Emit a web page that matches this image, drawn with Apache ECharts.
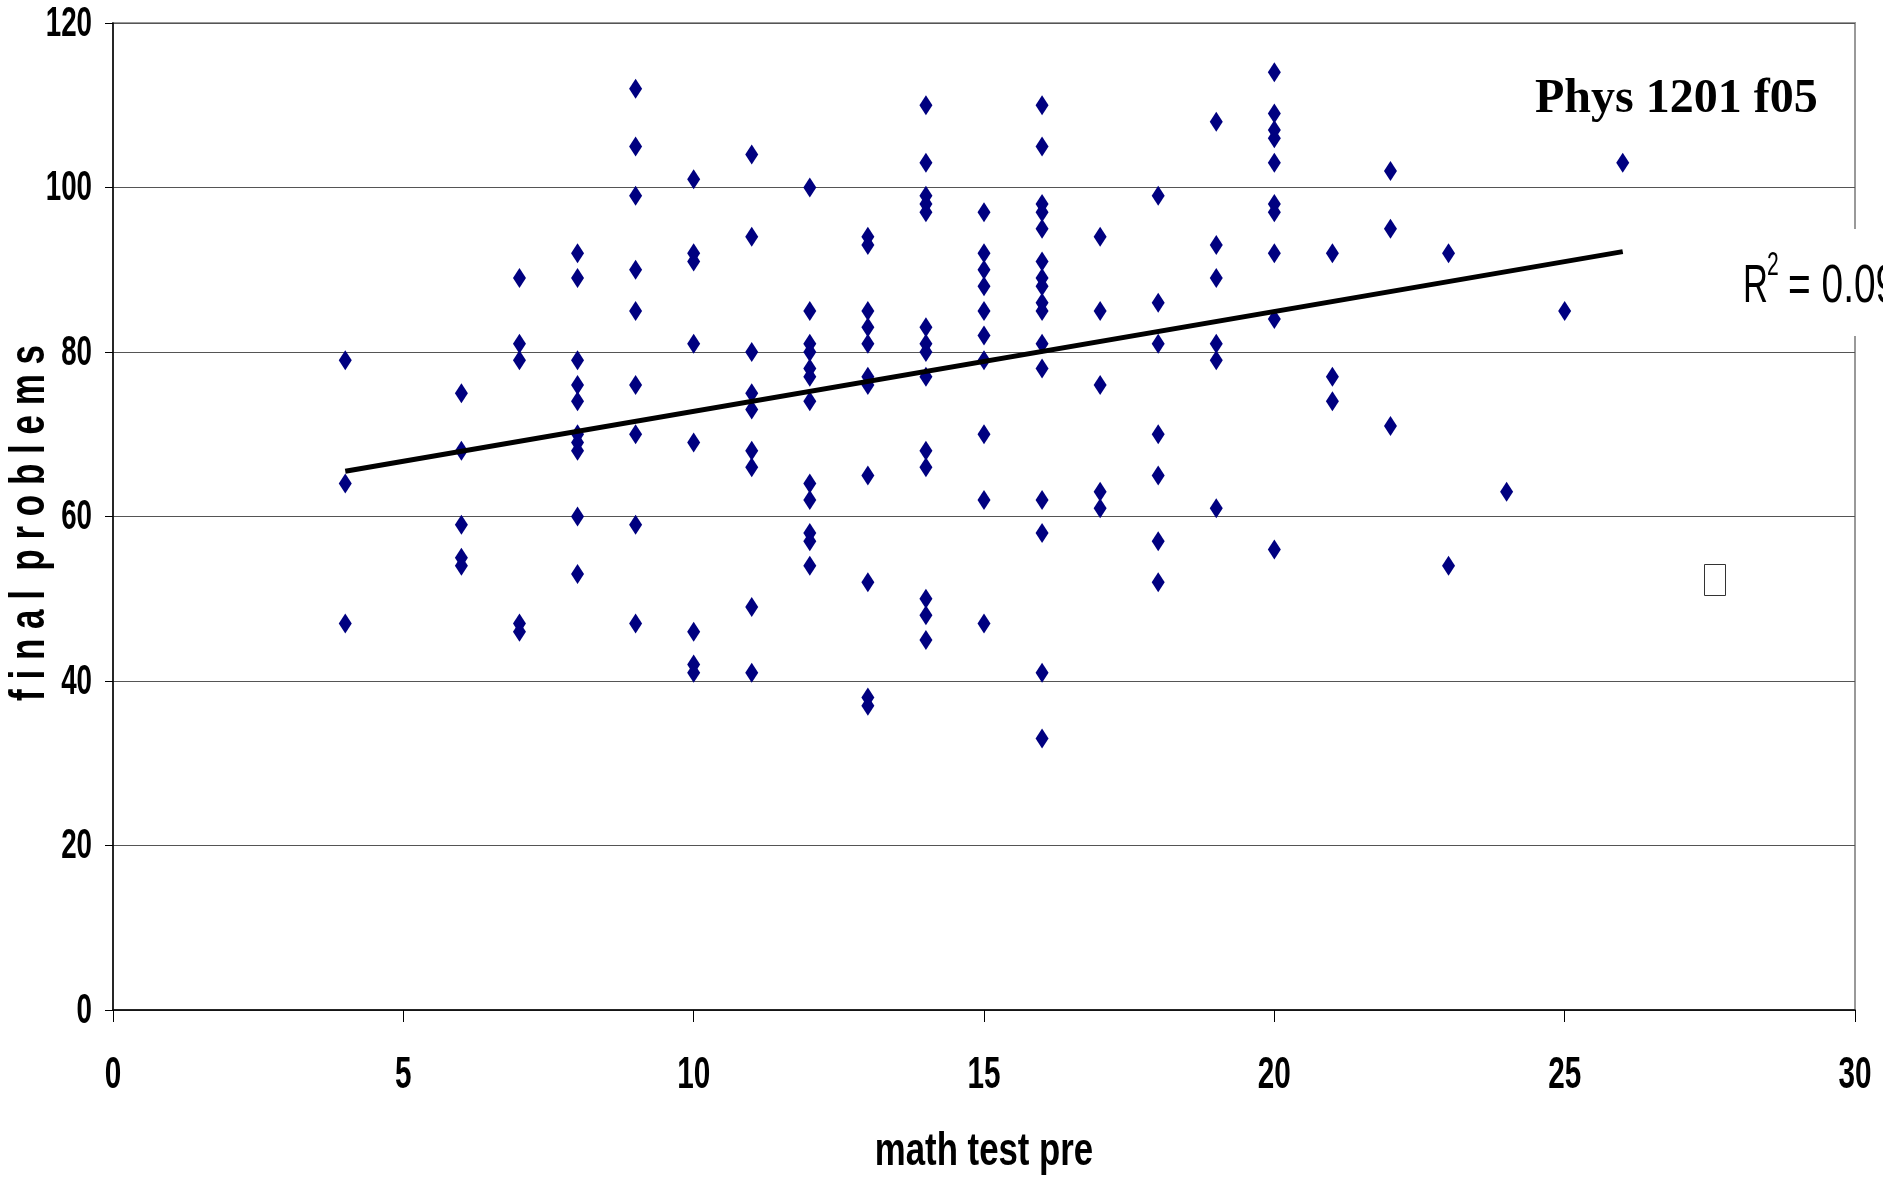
<!DOCTYPE html>
<html>
<head>
<meta charset="utf-8">
<title>Phys 1201 f05</title>
<script src="https://cdn.jsdelivr.net/npm/echarts@6/dist/echarts.min.js"></script>
<style>
  html, body { margin: 0; padding: 0; background: #ffffff; }
  #chart { width: 1883px; height: 1182px; }
</style>
</head>
<body>
<div id="chart"></div>
<script>
// Pre-course math test score (x) and the final-exam problem scores of the
// students who got that math score (y).
const preScores = [4, 6, 7, 8, 9, 10, 11, 12, 13, 14, 15, 16, 17, 18, 19, 20, 21, 22, 23, 24, 25, 26];
const finalByPre = [
  [79, 64, 47],
  [75, 68, 59, 55, 54],
  [89, 81, 79, 47, 46],
  [92, 89, 79, 76, 74, 70, 69, 68, 60, 53],
  [112, 105, 99, 90, 85, 76, 70, 59, 47],
  [101, 92, 91, 81, 69, 46, 42, 41],
  [104, 94, 80, 75, 73, 68, 66, 49, 41],
  [100, 85, 81, 80, 78, 77, 74, 64, 62, 58, 57, 54],
  [94, 93, 85, 83, 81, 77, 76, 65, 52, 38, 37],
  [110, 103, 99, 98, 97, 83, 81, 80, 77, 68, 66, 50, 48, 45],
  [97, 92, 90, 88, 85, 82, 79, 70, 62, 47],
  [110, 105, 98, 97, 95, 91, 89, 88, 86, 85, 81, 78, 62, 58, 41, 33],
  [94, 85, 76, 63, 61],
  [99, 86, 81, 70, 65, 57, 52],
  [108, 93, 89, 81, 79, 61],
  [114, 109, 107, 106, 103, 98, 97, 92, 84, 56],
  [92, 77, 74],
  [102, 95, 71],
  [92, 54],
  [63],
  [85],
  [103]
];

// Linear trend line end points
const trendX = [4, 26];
const trendY = [65.5, 92.2];
const rSquaredText = '0.09';

// Axis ticks and their labels
const xTickValues = [0, 5, 10, 15, 20, 25, 30];
const xTickLabels = ['0', '5', '10', '15', '20', '25', '30'];
const yTickValues = [0, 20, 40, 60, 80, 100, 120];
const yTickLabels = ['0', '20', '40', '60', '80', '100', '120'];

const chartTitle = 'Phys 1201 f05';
const xAxisTitle = 'math test pre';
const yAxisTitle = 'f i n a l  p r o b l e m s';

const points = [];
preScores.forEach(function (x, i) {
  finalByPre[i].forEach(function (y) { points.push([x, y]); });
});
const trendPoints = trendX.map(function (x, i) { return [x, trendY[i]]; });

const sans = "'Liberation Sans', Arial, sans-serif";
const narrowScale = 0.66;

const chart = echarts.init(document.getElementById('chart'), null, { renderer: 'canvas' });

chart.setOption({
  backgroundColor: '#ffffff',
  animation: false,
  grid: {
    left: 113, right: 28, top: 23, bottom: 172,
    containLabel: false,
    outerBoundsMode: 'none',
    show: true, borderColor: '#999999', borderWidth: 2, backgroundColor: 'transparent'
  },
  xAxis: {
    type: 'value',
    min: xTickValues[0], max: xTickValues[xTickValues.length - 1], interval: 5,
    axisLine: { show: true, onZero: false, lineStyle: { color: '#000', width: 1.5 } },
    axisTick: { show: true, length: 12, lineStyle: { color: '#000', width: 1 } },
    axisLabel: { show: false },
    splitLine: { show: false }
  },
  yAxis: {
    type: 'value',
    min: yTickValues[0], max: yTickValues[yTickValues.length - 1], interval: 20,
    axisLine: { show: true, onZero: false, lineStyle: { color: '#000', width: 1.5 } },
    axisTick: { show: true, length: 8, lineStyle: { color: '#000', width: 1 } },
    axisLabel: { show: false },
    splitLine: { show: true, lineStyle: { color: '#555555', width: 1.2 } }
  },
  series: [
    {
      type: 'scatter',
      data: points,
      symbol: 'diamond',
      symbolSize: [13, 20],
      itemStyle: { color: '#000080', opacity: 1 },
      z: 3
    },
    {
      type: 'line',
      data: trendPoints,
      showSymbol: false,
      symbol: 'none',
      lineStyle: { color: '#000', width: 5 },
      z: 4
    }
  ]
});

// Tick labels and titles in a condensed bold face, placed through the axes.
const graphics = [];
const xLabelY = 1076;
xTickValues.forEach(function (v, i) {
  const p = chart.convertToPixel({ gridIndex: 0 }, [v, 0]);
  graphics.push({
    type: 'text', x: p[0], y: xLabelY, scaleX: narrowScale, z: 20,
    style: { text: xTickLabels[i], font: 'bold 45px ' + sans, fill: '#000', align: 'center', verticalAlign: 'middle' }
  });
});
yTickValues.forEach(function (v, i) {
  const p = chart.convertToPixel({ gridIndex: 0 }, [0, v]);
  graphics.push({
    type: 'text', x: p[0] - 21, y: p[1] + 1, scaleX: narrowScale, z: 20,
    style: { text: yTickLabels[i], font: 'bold 42px ' + sans, fill: '#000', align: 'right', verticalAlign: 'middle' }
  });
});

const plotLeft = chart.convertToPixel({ gridIndex: 0 }, [0, 0]);
const plotRight = chart.convertToPixel({ gridIndex: 0 }, [30, 120]);
const plotMidX = (plotLeft[0] + plotRight[0]) / 2;

graphics.push(
  {
    type: 'text', x: plotMidX, y: 1152, scaleX: 0.74, z: 20,
    style: { text: xAxisTitle, font: 'bold 47px ' + sans, fill: '#000', align: 'center', verticalAlign: 'middle' }
  },
  {
    type: 'text', x: 30, y: 523, rotation: Math.PI / 2, scaleX: 0.7, z: 20,
    style: { text: yAxisTitle, font: 'bold 50px ' + sans, fill: '#000', align: 'center', verticalAlign: 'middle' }
  },
  {
    type: 'text', left: 1535, top: 76, z: 20,
    style: { text: chartTitle, font: "bold 48px 'Liberation Serif', 'Times New Roman', serif", fill: '#000' }
  },
  {
    type: 'rect', z: 18,
    shape: { x: 1739, y: 229, width: 150, height: 107 },
    style: { fill: '#ffffff' }
  },
  {
    type: 'text', x: 1743, y: 287, scaleX: 0.64, z: 20,
    style: { text: 'R', font: '54px ' + sans, fill: '#000', align: 'left', verticalAlign: 'middle' }
  },
  {
    type: 'text', x: 1767, y: 266, scaleX: 0.64, z: 20,
    style: { text: '2', font: '33px ' + sans, fill: '#000', align: 'left', verticalAlign: 'middle' }
  },
  {
    type: 'text', x: 1788, y: 287, scaleX: 0.72, z: 20,
    style: { text: '= ' + rSquaredText, font: '54px ' + sans, fill: '#000', align: 'left', verticalAlign: 'middle' }
  },
  {
    type: 'rect', z: 18,
    shape: { x: 1704.5, y: 564.5, width: 21, height: 31 },
    style: { fill: '#ffffff', stroke: '#333333', lineWidth: 1 }
  }
);

chart.setOption({ graphic: graphics });
</script>
</body>
</html>
